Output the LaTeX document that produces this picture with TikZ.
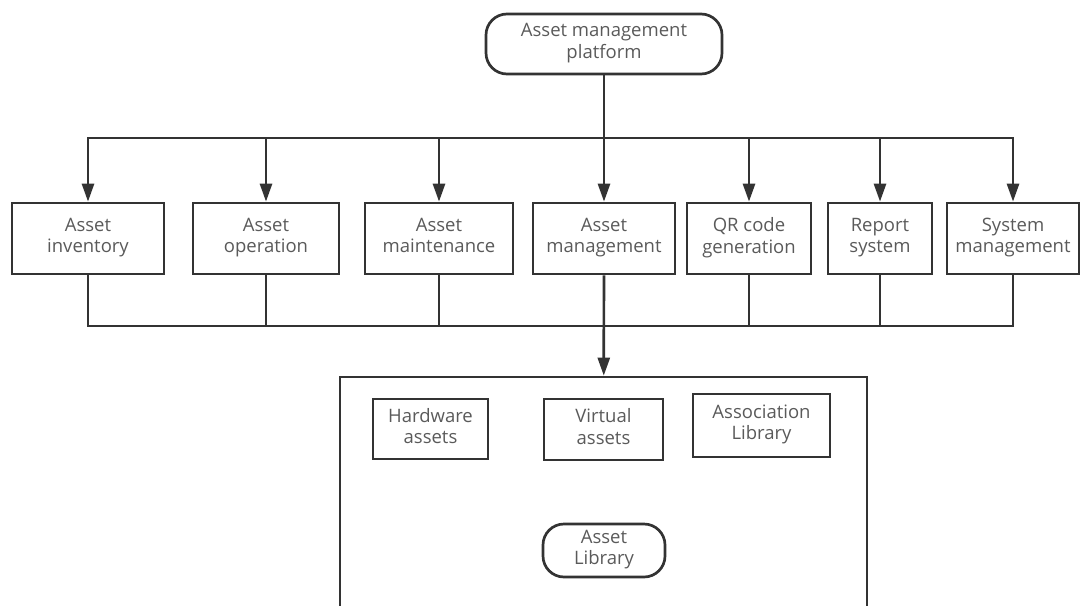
\documentclass[tikz,border=0pt]{standalone}
\usepackage{fontspec}
\setmainfont{Open Sans}
\usetikzlibrary{arrows.meta,positioning}
\definecolor{ln}{HTML}{333333}
\definecolor{tx}{HTML}{5a5a5a}

\begin{document}
\begin{tikzpicture}[x=1pt,y=-1pt,color=ln,line width=2.7pt,
  >={Triangle[length=18pt,width=12pt]},
  box/.style={draw=ln,align=center,text=tx,inner sep=0pt,font=\fontsize{18.5}{21.5}\selectfont,
    execute at begin node=\strut,execute at end node=\strut},
  mod/.style={box,minimum height=71pt},
  pill/.style={box,rounded corners=21pt}]
\useasboundingbox (0,0) rectangle (1081,605);
\clip (0,0) rectangle (1081,605);
\node[pill,minimum width=236pt,minimum height=60pt] (plat) at (604,44) {Asset management\\platform};
\node[mod,minimum width=152pt] (inv) at (88,238.5) {Asset\\inventory};
\node[mod,minimum width=146pt] (opr) at (266,238.5) {Asset\\operation};
\node[mod,minimum width=148pt] (mnt) at (439,238.5) {Asset\\maintenance};
\node[mod,minimum width=142pt] (mgt) at (604,238.5) {Asset\\management};
\node[mod,minimum width=124pt] (qr) at (749,238.5) {QR code\\generation};
\node[mod,minimum width=104pt] (rep) at (880,238.5) {Report\\system};
\node[mod,minimum width=132pt] (sys) at (1013,238.5) {System\\management};
\node[box,minimum width=527pt,minimum height=300pt] (frame) at (603.5,527) {};
\node[box,minimum width=115pt,minimum height=60pt] (hw) at (430.5,429) {Hardware\\assets};
\node[box,minimum width=119pt,minimum height=61pt] (va) at (603.5,429.5) {Virtual\\assets};
\node[box,minimum width=137pt,minimum height=63pt] (al) at (761.5,425.5) {Association\\Library};
\node[pill,minimum width=122pt,minimum height=53pt] (lib) at (604,550.5) {Asset\\Library};
\coordinate (busT) at (0,138);
\coordinate (busB) at (0,326);
\draw (plat) -- (busT -| plat);
\draw[<->] (inv) |- (busT -| sys) -- (sys);
\draw[->] (busT -| opr) -- (opr);
\draw[->] (busT -| mnt) -- (mnt);
\draw[->] (busT -| mgt) -- (mgt);
\draw[->] (busT -| qr) -- (qr);
\draw[->] (busT -| rep) -- (rep);
\draw (inv) |- (busB -| sys) -- (sys);
\draw (opr) -- (busB -| opr);
\draw (mnt) -- (busB -| mnt);
\draw (qr) -- (busB -| qr);
\draw (rep) -- (busB -| rep);
\draw[->] (mgt) -- (frame);
\end{tikzpicture}
\end{document}
